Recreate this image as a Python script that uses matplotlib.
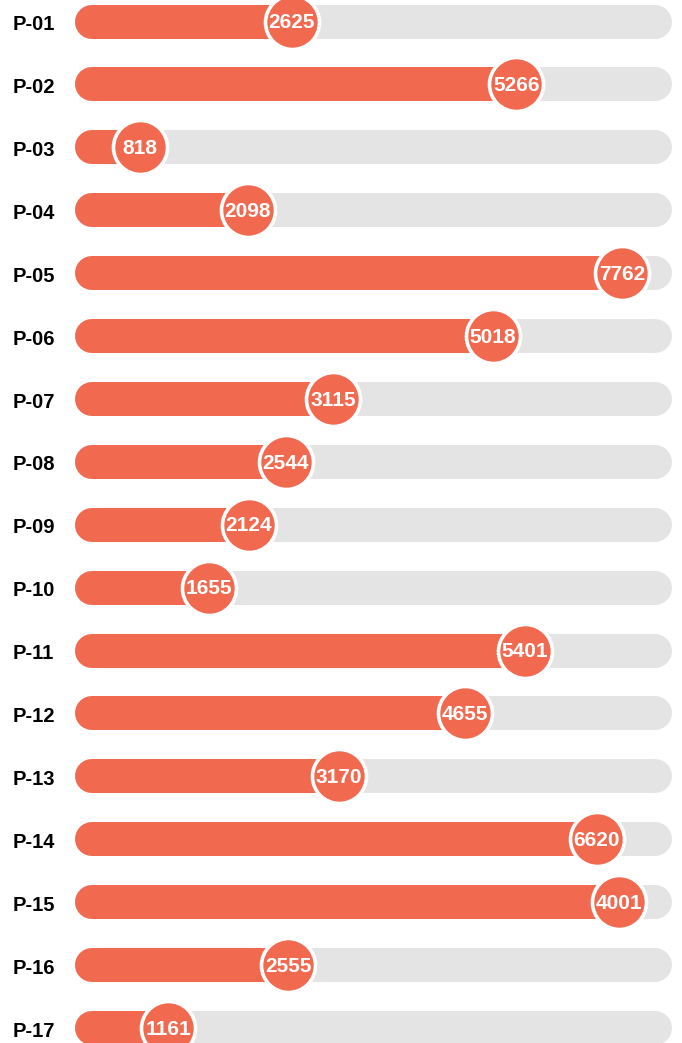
import numpy as np
import matplotlib
matplotlib.use("Agg")
import matplotlib.pyplot as plt
import matplotlib.transforms as mtrans

plt.rcParams['font.family'] = ['Liberation Sans', 'DejaVu Sans']

# data
names = ["P-01", "P-02", "P-03", "P-04", "P-05", "P-06", "P-07", "P-08", "P-09",
         "P-10", "P-11", "P-12", "P-13", "P-14", "P-15", "P-16", "P-17"]
values = [2625, 5266, 818, 2098, 7762, 5018, 3115, 2544, 2124,
          1655, 5401, 4655, 3170, 6620, 4001, 2555, 1161]
# share of the track that is filled (0..1)
progress = [0.363, 0.739, 0.109, 0.289, 0.916, 0.700, 0.432, 0.353, 0.291,
            0.224, 0.754, 0.653, 0.442, 0.874, 0.911, 0.357, 0.156]

orange = '#f16a50'
track = '#e4e4e4'

W, H = 682, 1043
fig = plt.figure(figsize=(W/100, H/100), dpi=100)
left, right = 75, 672
ax = fig.add_axes([left/W, 0, (right-left)/W, 1])

row = 62.9
top = 21.5
ax.set_xlim(0, 1)
ax.set_ylim((H - top)/row, -top/row)
ax.axis('off')

bar_px = 34
lw = bar_px * 72 / 100
cap = (bar_px/2) / (right - left)  # round cap length in data units

y = np.arange(len(names))
for i in range(len(names)):
    ax.plot([cap, 1 - cap], [y[i], y[i]], color=track, lw=lw,
            solid_capstyle='round', zorder=1)
    ax.plot([cap, progress[i]], [y[i], y[i]], color=orange, lw=lw,
            solid_capstyle='round', zorder=2)

dot = 54 * 72 / 100
ax.scatter(progress, y, s=dot**2, color=orange, edgecolors='white',
           linewidths=2.6, zorder=3, clip_on=False)

for i in range(len(names)):
    ax.text(progress[i], y[i] + 0.02, str(values[i]), color='white', fontsize=15,
            fontweight='bold', ha='center', va='center', zorder=4)

tr = mtrans.blended_transform_factory(fig.transFigure, ax.transData)
for i in range(len(names)):
    ax.text(13/W, y[i] + 0.05, names[i], transform=tr, fontsize=14.5,
            fontweight='bold', ha='left', va='center', color='black')

fig.savefig('out.png', dpi=100)
